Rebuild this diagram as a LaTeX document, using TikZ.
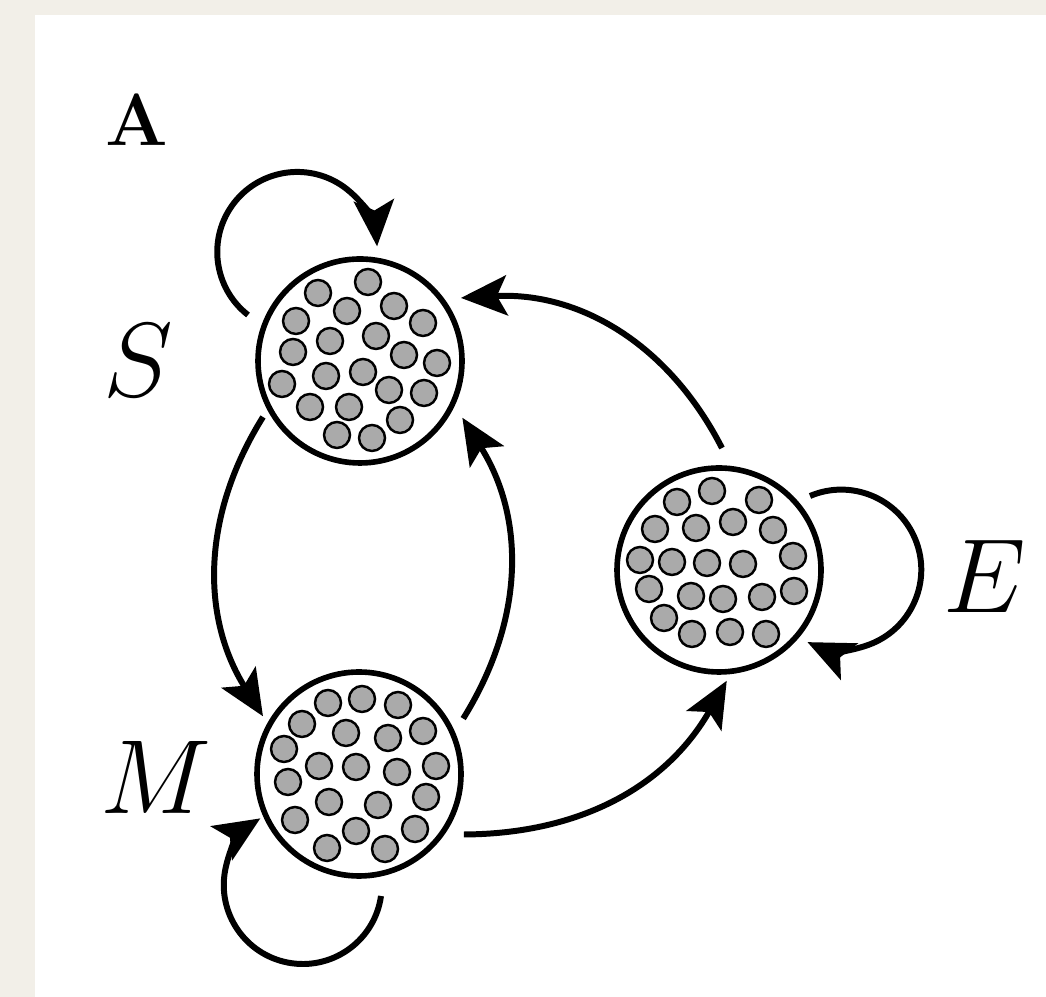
\RequirePackage{fix-cm}
\documentclass[tikz,border=0pt]{standalone}
\usepackage{tikz}
\usetikzlibrary{arrows.meta,calc}

\definecolor{paper}{RGB}{242,239,232}
\definecolor{dotgray}{RGB}{170,170,170}

\begin{document}
\begin{tikzpicture}[
  pool/.style={circle,draw,line width=1.6pt,minimum size=2.04cm,inner sep=0pt},
  cell/.style={draw,line width=0.7pt,fill=dotgray},
  flow/.style={line width=1.7pt,-{Stealth[length=4.6mm,width=4mm,inset=1mm]}},
  lab/.style={font=\fontsize{30}{36}\selectfont}
]
\useasboundingbox (0,0) rectangle (10.46,9.97);
\fill[paper] (0,0) rectangle (10.46,9.97);
\fill[white] (0.35,0) rectangle (10.46,9.82);

% Pools
\node[pool] (S) at (3.60,6.36) {};
\node[pool] (M) at (3.59,2.23) {};
\node[pool] (E) at (7.19,4.27) {};

% Particles in each pool
\foreach \dx/\dy in {0.08/0.79,-0.42/0.68,0.34/0.55,-0.13/0.50,-0.64/0.40,0.63/0.38,
    0.16/0.25,-0.30/0.20,-0.67/0.09,0.44/0.06,0.77/-0.02,0.03/-0.11,-0.34/-0.15,
    -0.78/-0.23,0.29/-0.29,0.64/-0.32,-0.50/-0.46,-0.11/-0.46,0.40/-0.59,
    -0.23/-0.74,0.12/-0.77}
  \draw[cell] ([shift={(\dx,\dy)}]S.center) circle (0.13);
\foreach \dx/\dy in {-0.31/0.71,0.03/0.75,0.39/0.69,-0.57/0.50,-0.13/0.41,0.29/0.36,
    0.64/0.43,-0.75/0.25,-0.40/0.08,-0.03/0.07,0.38/0.02,0.77/0.08,-0.71/-0.08,
    -0.30/-0.28,0.19/-0.31,0.67/-0.23,-0.64/-0.46,-0.03/-0.57,0.56/-0.55,
    -0.32/-0.74,0.26/-0.75}
  \draw[cell] ([shift={(\dx,\dy)}]M.center) circle (0.13);
\foreach \dx/\dy in {-0.07/0.79,-0.42/0.68,0.40/0.70,-0.64/0.41,-0.23/0.42,0.14/0.48,
    0.54/0.40,-0.79/0.10,-0.47/0.08,-0.12/0.07,0.24/0.06,0.74/0.14,-0.70/-0.19,
    -0.28/-0.26,0.04/-0.29,0.43/-0.27,0.75/-0.21,-0.55/-0.48,-0.27/-0.64,
    0.11/-0.62,0.47/-0.64}
  \draw[cell] ([shift={(\dx,\dy)}]E.center) circle (0.13);

% Transitions
\draw[flow] ($(S)+(210:1.12)$) to[bend right=32] ($(M)+(149:1.12)$);
\draw[flow] ($(M)+(28:1.18)$) to[bend right=32] ($(S)+(-29:1.17)$);
\draw[flow] ($(E)+(88.6:1.22)$) to[bend right=33] ($(S)+(32:1.19)$);
\draw[flow] ($(M)+(-30:1.21)$) to[bend right=30] ($(E)+(-86:1.11)$);

% Self loops
\draw[flow] ($(S)+(-1.12,0.46)$) arc[start angle=232,end angle=4,radius=0.8];
\draw[flow] ($(M)+(0.22,-1.22)$) arc[start angle=-8,end angle=-237.5,radius=0.79];
\draw[flow] ($(E)+(0.91,0.74)$) arc[start angle=113,end angle=-115,radius=0.8];

% Labels
\node[lab] (lS) at (1.38,6.37) {$S$};
\node[lab] (lM) at (1.56,2.20) {$M$};
\node[lab] (lE) at (9.85,4.21) {$E$};
\node[font=\bfseries\fontsize{21}{25}\selectfont] (tag) at (1.37,8.77) {A};
\end{tikzpicture}
\end{document}
